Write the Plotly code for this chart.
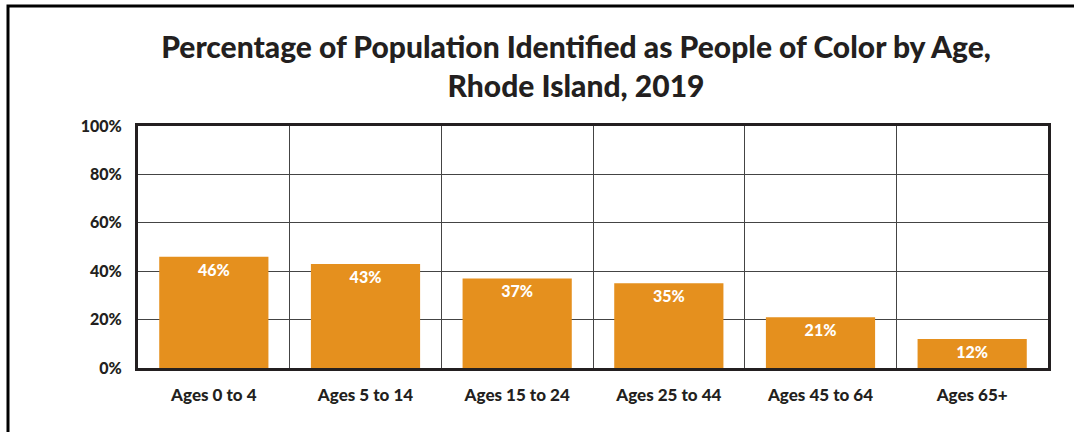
import plotly.graph_objects as go

categories = ["Ages 0 to 4", "Ages 5 to 14", "Ages 15 to 24", "Ages 25 to 44", "Ages 45 to 64", "Ages 65+"]
values = [46, 43, 37, 35, 21, 12]
labels = ["46%", "43%", "37%", "35%", "21%", "12%"]
y_ticks = [0, 20, 40, 60, 80, 100]
y_tick_text = ["0%", "20%", "40%", "60%", "80%", "100%"]

FONT = "Lato"
DARK = "#231F20"

fig = go.Figure()
fig.add_trace(go.Bar(
    x=categories, y=values, text=labels,
    textposition="inside", insidetextanchor="end",
    textfont=dict(family=FONT, size=16, color="white", weight=900),
    marker=dict(color="#E5901E", line=dict(width=0)),
    width=0.72, hoverinfo="skip", cliponaxis=False,
))
# invisible trace on overlay axis for vertical gridlines between categories
fig.add_trace(go.Scatter(x=[-0.5, 5.5], y=[0, 0], xaxis="x2", mode="lines",
                         line=dict(width=0), hoverinfo="skip", showlegend=False))

fig.update_layout(
    width=1074, height=432,
    margin=dict(l=138, r=26, t=126, b=64),
    paper_bgcolor="white", plot_bgcolor="white",
    showlegend=False,
    title=dict(
        text="Percentage of Population Identified as People of Color by Age,<br>Rhode Island, 2019",
        x=576/1074, xanchor="center", y=1 - 58/432, yanchor="middle",
        font=dict(family=FONT, size=30, color=DARK, weight=900),
    ),
    xaxis=dict(
        type="category", range=[-0.5, 5.5], showgrid=False,
        showline=True, linecolor=DARK, linewidth=3, mirror=True,
        ticks="", tickfont=dict(family=FONT, size=17, color=DARK, weight=900),
        ticklabelstandoff=10,
    ),
    xaxis2=dict(
        overlaying="x", range=[-0.5, 5.5], tick0=0.5, dtick=1,
        showgrid=True, gridcolor="#444444", gridwidth=1,
        showticklabels=False, zeroline=False, showline=False,
    ),
    yaxis=dict(
        range=[0, 100], tickvals=y_ticks, ticktext=y_tick_text,
        showgrid=True, gridcolor="#444444", gridwidth=1,
        showline=True, linecolor=DARK, linewidth=3, mirror=True,
        zeroline=False, ticks="",
        tickfont=dict(family=FONT, size=16, color=DARK, weight=900),
        ticklabelstandoff=10,
    ),
    bargap=0.28,
    shapes=[dict(type="rect", xref="paper", yref="paper",
                 x0=(8 - 138) / 910, x1=1.2, y0=-0.6, y1=(368 - 6) / 242,
                 line=dict(color="black", width=3), layer="below")],
)
fig.write_html("out.html", config={"displayModeBar": False},
               post_script="document.body.style.margin='0';")
